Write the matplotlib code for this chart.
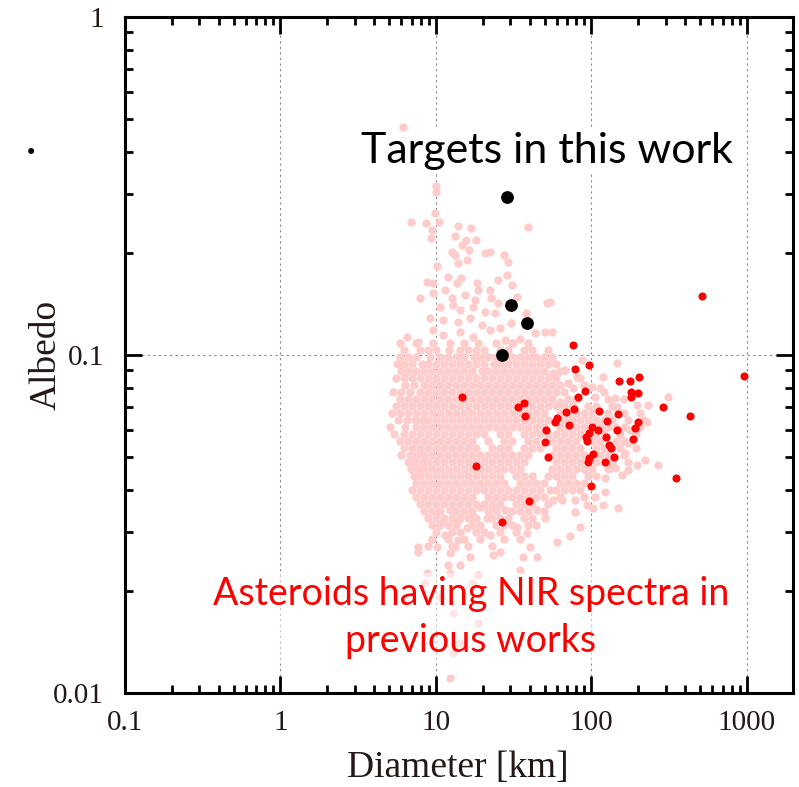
import numpy as np
import matplotlib
matplotlib.use("Agg")
import matplotlib.pyplot as plt
from matplotlib import ticker

# ---- data ---------------------------------------------------------------
# targets of this work (black)
black_diam = [28.5, 30.2, 38.3, 26.5]
black_albedo = [0.294, 0.141, 0.124, 0.100]

# asteroids with NIR spectra in previous works (red)
red_diam = [511, 961, 76.0, 96.4, 78.3, 151, 177, 203, 181, 200,
            179.5, 90.8, 82.5, 14.7, 289.5, 112.6, 77.2, 69.1, 148.7, 430,
            59.7, 58.3, 72.0, 100.7, 110.6, 96.4, 126.4, 145.3, 198.2, 190.4,
            92.2, 93.1, 124.9, 184, 130.2, 132.9, 102.2, 96.8, 95.7, 140.2,
            122.1, 52.9, 349.5, 100, 37.0, 33.7, 37.6, 51.4, 50.2, 18.1,
            39.8, 26.5]
red_albedo = [0.1495, 0.0868, 0.1071, 0.0932, 0.0909, 0.0839, 0.0839, 0.0859, 0.0777, 0.0772,
              0.0752, 0.0782, 0.0751, 0.0752, 0.0702, 0.0683, 0.0692, 0.0678, 0.0669, 0.0662,
              0.0649, 0.0633, 0.0621, 0.0612, 0.060, 0.0588, 0.0639, 0.060, 0.0632, 0.0608,
              0.0572, 0.0555, 0.0573, 0.0563, 0.0542, 0.053, 0.0511, 0.0495, 0.0482, 0.0499,
              0.0482, 0.050, 0.0432, 0.041, 0.0721, 0.0702, 0.0661, 0.0598, 0.0553, 0.0470,
              0.0371, 0.032]

# background population (pink), scattered points (diameter, albedo)
pink_scatter = [
    (6.13, 0.473), (10.0, 0.316), (10.0, 0.304), (9.8, 0.263), (6.91, 0.247), (8.6, 0.246),
    (10.4, 0.247), (9.4, 0.235), (9.3, 0.222), (13.8, 0.241), (16.8, 0.2375), (13.3, 0.225),
    (15.6, 0.219), (18.1, 0.219), (14.7, 0.2115), (16.3, 0.2045), (12.6, 0.202), (13.8, 0.187),
    (13.2, 0.1977), (15.8, 0.191), (20.6, 0.2003), (22.2, 0.202), (27.4, 0.1977), (29.0, 0.1888),
    (10.2, 0.1837), (39.0, 0.2391),
    (8.7, 0.1648), (9.6, 0.163), (12.0, 0.1705), (13.6, 0.163), (14.6, 0.1686), (18.3, 0.163),
    (18.7, 0.1557), (25.1, 0.1667), (28.5, 0.1724), (30.7, 0.1611), (22.2, 0.1557), (7.9, 0.1472),
    (9.6, 0.1522), (11.4, 0.1557), (12.6, 0.1472), (15.3, 0.1505), (17.8, 0.1455), (22.7, 0.1472),
    (25.2, 0.1422), (33.0, 0.1488), (10.6, 0.139), (12.9, 0.1406), (14.3, 0.1359), (17.3, 0.139),
    (20.6, 0.1343), (23.9, 0.1329), (38.1, 0.1329), (51.5, 0.1422), (9.1, 0.1284), (11.1, 0.127),
    (13.9, 0.1254), (16.5, 0.1284), (19.7, 0.1227), (22.2, 0.1186), (25.8, 0.12), (30.6, 0.124),
    (43.3, 0.116), (50.2, 0.1172), (6.5, 0.1133), (7.7, 0.1095), (9.6, 0.1186), (11.1, 0.1146),
    (14.3, 0.1172), (17.3, 0.1133), (27.8, 0.1107), (31.3, 0.1083), (34.7, 0.1116), (55.7, 0.117),
    (54, 0.1434),
    (67.5, 0.0903), (87, 0.0966), (146, 0.0947), (118, 0.0861), (80.7, 0.0861), (70.6, 0.0826),
    (76, 0.0799), (101.5, 0.0804), (113, 0.0799), (105, 0.0751), (142, 0.0746), (310, 0.0751),
    (231, 0.0711), (197, 0.0711), (147, 0.0702), (62.7, 0.0726), (56.6, 0.0884), (227, 0.0633),
    (220, 0.0489), (267, 0.0473), (197, 0.0473), (157, 0.0441), (172, 0.0457), (141, 0.0462),
    (122, 0.0433), (122, 0.0393), (105, 0.038), (118, 0.036), (148, 0.0353), (102, 0.0353),
    (93.5, 0.036), (78, 0.0372), (65, 0.0372), (56.5, 0.0372), (78, 0.0343), (84.3, 0.031),
    (72.5, 0.0291), (60, 0.028), (54, 0.0399), (164, 0.0513), (172, 0.0549), (177, 0.060),
    (9.86, 0.0343), (10.9, 0.0321), (11.4, 0.0293), (13.8, 0.0284), (15.8, 0.0308), (21.3, 0.0329),
    (22.2, 0.0293), (27.8, 0.0348), (33.3, 0.031), (38.5, 0.0297), (40.2, 0.027), (50.2, 0.0329),
    (44.6, 0.0348), (13.6, 0.0321), (12.3, 0.0348), (17.3, 0.0332), (23.3, 0.0355), (19.2, 0.0355),
    (10.1, 0.027), (7.7, 0.027), (13.2, 0.027), (5.06, 0.0612),
    (7.7, 0.0261), (12.3, 0.026), (16.5, 0.0252), (14.3, 0.0239), (11.9, 0.0239), (12.3, 0.0226),
    (23.2, 0.0256), (25.8, 0.0261), (36.3, 0.0252), (44.6, 0.0252), (34.7, 0.0231), (17.0, 0.0211),
    (18.6, 0.0223), (8.8, 0.0226), (8.5, 0.0211), (10.6, 0.0192), (12.9, 0.0172), (18.6, 0.0161),
    (12.9, 0.0131), (14.3, 0.0141), (12.3, 0.0111),
]

# dense core of the pink population, one albedo per row
pink_row_albedo = [0.1085, 0.1035, 0.0987, 0.0941, 0.0897, 0.0855, 0.0815, 0.0777, 0.0741, 0.0707,
                   0.0674, 0.0642, 0.0612, 0.0584, 0.0557, 0.0531, 0.0506, 0.0482, 0.0460, 0.0438,
                   0.0418, 0.0399, 0.0380, 0.0362, 0.0345, 0.0329, 0.0314, 0.0299, 0.0285, 0.0272]
pink_row_diam = [
    [5.9, 7.4, 9.6, 12.3, 15.1, 18.7, 24.3, 30.8, 39.0],
    [6.23, 7.89, 8.89, 10.0, 12.1, 14.3, 16.1, 18.1, 20.4, 25.8, 29.0, 36.8, 41.4, 52.5],
    [5.87, 6.60, 7.44, 9.2, 10.6, 11.9, 13.4, 15.1, 17.6, 19.2, 21.6, 24.3, 27.4, 30.8, 34.7, 39.0, 44.0, 49.5, 55.7],
    [5.6, 6.23, 7.01, 8.1, 8.89, 10.0, 11.3, 12.7, 14.3, 16.1, 18.1, 20.4, 23.5, 25.8, 29.0, 32.7, 36.8, 41.4, 46.7, 52.5, 59.1],
    [6.0, 6.60, 7.44, 8.37, 9.43, 10.6, 11.9, 13.4, 15.1, 17.0, 19.8, 21.6, 24.3, 27.4, 30.8, 34.7, 39.0, 44.0, 49.5, 62.7],
    [5.5, 6.23, 7.01, 7.89, 8.89, 10.0, 11.3, 12.7, 14.3, 16.1, 18.1, 20.4, 22.9, 25.8, 29.0, 32.7, 36.8, 41.4, 46.7, 52.5, 59.1, 84.3],
    [6.3, 7.2, 8.37, 9.43, 10.6, 11.9, 13.4, 15.1, 17.0, 19.2, 21.6, 24.3, 27.4, 30.8, 34.7, 39.0, 44.0, 49.5, 55.7, 62.7, 89.5],
    [5.3, 6.0, 6.8, 7.89, 8.89, 10.0, 11.3, 12.7, 14.3, 16.1, 18.1, 20.4, 22.9, 25.8, 29.0, 32.7, 36.8, 41.4, 46.7, 52.5, 59.1, 66.6, 120],
    [5.87, 6.60, 7.44, 8.37, 9.43, 10.6, 11.9, 13.4, 15.1, 17.0, 19.2, 21.6, 24.3, 27.4, 30.8, 34.7, 39.0, 44.0, 49.5, 55.7, 70.6, 79.5, 128, 162],
    [5.53, 6.23, 7.01, 7.89, 8.89, 10.0, 11.3, 12.7, 14.3, 16.1, 18.1, 20.4, 22.9, 25.8, 29.0, 32.7, 36.8, 41.4, 46.7, 52.5, 59.1, 66.6, 74.9, 94.9, 107, 136],
    [5.21, 5.87, 6.60, 7.44, 8.37, 9.43, 10.6, 11.9, 13.4, 15.1, 17.0, 19.2, 21.6, 24.3, 27.4, 30.8, 34.7, 39.0, 44.0, 49.5, 62.7, 70.6, 79.5, 89.5, 101, 128, 162, 205],
    [5.7, 6.5, 7.3, 8.1, 8.89, 10.0, 11.3, 12.7, 14.3, 16.1, 18.1, 20.4, 22.9, 25.8, 29.0, 32.7, 36.8, 41.4, 46.7, 52.5, 59.1, 66.6, 74.9, 84.3, 94.9, 107, 120, 136, 172, 218],
    [6.3, 7.44, 8.37, 9.43, 10.6, 11.9, 13.4, 15.1, 17.0, 19.2, 21.6, 24.3, 27.4, 30.8, 34.7, 39.0, 44.0, 49.5, 62.7, 70.6, 79.5, 89.5, 113, 128, 144, 162, 205],
    [5.4, 6.23, 7.01, 7.89, 8.89, 10.0, 11.3, 12.7, 14.3, 16.1, 18.1, 20.4, 25.8, 29.0, 36.8, 41.4, 46.7, 52.5, 59.1, 66.6, 74.9, 84.3, 107, 120, 153, 193],
    [5.87, 6.60, 7.44, 8.37, 9.43, 10.6, 11.9, 13.4, 15.1, 17.0, 21.6, 27.4, 30.8, 39.0, 44.0, 55.7, 62.7, 70.6, 79.5, 101, 113, 144, 162, 182],
    [6.23, 7.01, 7.89, 8.89, 10.0, 11.3, 12.7, 14.3, 16.1, 18.1, 22.9, 25.8, 29.0, 36.8, 41.4, 46.7, 59.1, 66.6, 74.9, 84.3, 107, 120, 153, 193],
    [6.0, 6.8, 7.6, 8.37, 9.43, 10.6, 11.9, 13.4, 15.1, 17.0, 19.2, 21.6, 24.3, 27.4, 30.8, 34.7, 39.0, 55.7, 62.7, 70.6, 79.5, 89.5, 113, 128, 162],
    [6.6, 7.3, 8.2, 8.89, 10.0, 11.3, 12.7, 14.3, 16.1, 18.1, 20.4, 22.9, 25.8, 29.0, 32.7, 36.8, 59.1, 66.6, 74.9, 84.3, 107, 136, 172],
    [6.9, 7.7, 8.37, 9.43, 10.6, 11.9, 13.4, 15.1, 17.0, 19.2, 21.6, 24.3, 27.4, 30.8, 34.7, 55.7, 62.7, 70.6, 79.5, 89.5, 101, 128],
    [7.2, 7.89, 8.89, 10.0, 11.3, 12.7, 14.3, 16.1, 18.1, 20.4, 22.9, 25.8, 32.7, 36.8, 41.4, 52.5, 59.1, 66.6, 74.9, 94.9, 107],
    [7.44, 8.37, 9.43, 10.6, 11.9, 13.4, 15.1, 17.0, 19.2, 21.6, 24.3, 27.4, 34.7, 39.0, 44.0, 49.5, 62.7, 70.6, 79.5, 89.5],
    [7.01, 7.89, 8.89, 10.0, 11.3, 12.7, 14.3, 16.1, 18.1, 20.4, 22.9, 25.8, 29.0, 32.7, 36.8, 41.4, 46.7, 59.1, 66.6, 74.9, 84.3],
    [7.44, 8.37, 9.43, 10.6, 11.9, 13.4, 15.1, 17.0, 21.6, 24.3, 27.4, 30.8, 34.7, 39.0, 44.0, 49.5, 62.7, 89.5],
    [7.89, 8.89, 10.0, 11.3, 12.7, 14.3, 16.1, 18.1, 20.4, 22.9, 25.8, 32.7, 36.8, 41.4, 52.5],
    [8.37, 9.43, 10.6, 13.4, 15.1, 17.0, 21.6, 24.3, 30.8, 34.7, 39.0, 49.5],
    [8.89, 10.0, 11.3, 12.7, 14.3, 16.1, 18.1, 22.9, 25.8, 29.0, 36.8, 41.4],
    [9.43, 10.6, 11.9, 13.4, 17.0, 19.2, 24.3, 27.4, 30.8, 39.0, 44.0],
    [10.0, 12.7, 14.3, 18.1, 20.4, 25.8, 32.7],
    [9.43, 11.9, 15.1, 19.2, 27.4, 34.7],
    [8.89, 12.7, 16.1, 22.9],
]

xtick_vals = [0.1, 1, 10, 100, 1000]
ytick_vals = [0.01, 0.1, 1]

# ---- build the pink arrays -------------------------------------------------
pink_d = [d for d, a in pink_scatter]
pink_a = [a for d, a in pink_scatter]
for alb, row in zip(pink_row_albedo, pink_row_diam):
    pink_d += row
    pink_a += [alb] * len(row)

serif = ["Liberation Serif", "DejaVu Serif"]
sans = ["Lato", "DejaVu Sans"]
tick_col = "#231815"

fig = plt.figure(figsize=(7.99, 7.87), dpi=100)
ax = fig.add_axes([125 / 799, 1 - 693 / 787, 668 / 799, 676 / 787])

ax.scatter(pink_d, pink_a, s=36, color="#ffcccc", linewidths=0, zorder=1)
ax.scatter(red_diam, red_albedo, s=34, color="#ff0000", linewidths=0, zorder=2)
ax.scatter(black_diam, black_albedo, s=85, color="black", linewidths=0, zorder=2.2)

ax.set_xscale("log")
ax.set_yscale("log")
ax.set_xlim(0.1, 1980)
ax.set_ylim(0.01, 1)

ax.set_axisbelow(True)
ax.grid(True, which="major", color="#888888", linestyle=(0, (2, 3)), linewidth=0.8)

ax.xaxis.set_major_locator(ticker.FixedLocator(xtick_vals))
ax.yaxis.set_major_locator(ticker.FixedLocator(ytick_vals))
ax.xaxis.set_minor_locator(ticker.LogLocator(base=10, subs=np.arange(2, 10)))
ax.yaxis.set_minor_locator(ticker.LogLocator(base=10, subs=np.arange(2, 10)))
fmt = ticker.FuncFormatter(lambda v, p: f"{v:g}")
ax.xaxis.set_major_formatter(fmt)
ax.yaxis.set_major_formatter(fmt)
ax.xaxis.set_minor_formatter(ticker.NullFormatter())
ax.yaxis.set_minor_formatter(ticker.NullFormatter())

ax.tick_params(which="both", direction="in", top=True, right=True, width=2, color="black")
ax.tick_params(which="major", length=12)
ax.tick_params(which="minor", length=6)
ax.tick_params(axis="x", which="major", pad=12)
ax.tick_params(axis="y", which="major", pad=15)
for lab in ax.get_xticklabels() + ax.get_yticklabels():
    lab.set_family(serif)
    lab.set_fontsize(21)
    lab.set_color(tick_col)

for sp in ax.spines.values():
    sp.set_linewidth(2.2)

fig.text(46 / 799, 1 - 355 / 787, "Albedo", rotation=90, ha="center", va="center",
         family=serif, fontsize=27, color=tick_col)
fig.text(458 / 799, 1 - 768 / 787, "Diameter [km]", ha="center", va="center",
         family=serif, fontsize=27, color=tick_col)

ax.text(0.632, 0.784, "Targets in this work", transform=ax.transAxes,
        ha="center", va="baseline", fontsize=31, family=sans,
        color="black", zorder=0.8,
        bbox=dict(facecolor="white", edgecolor="none", pad=2))
# baseline given is that of the second line
ax.text(0.518, 0.0607, "Asteroids having NIR spectra in\nprevious works", transform=ax.transAxes,
        ha="center", va="baseline", fontsize=27, family=sans,
        color="#ff0000", linespacing=1.38, zorder=3,
        bbox=dict(facecolor="white", alpha=0.5, edgecolor="none", pad=2))

# stray dot in the left margin
fig.text(31 / 799, 1 - 153 / 787, "\u2022", ha="center", va="center", fontsize=15, color="black")

fig.savefig("out.png", dpi=100)
